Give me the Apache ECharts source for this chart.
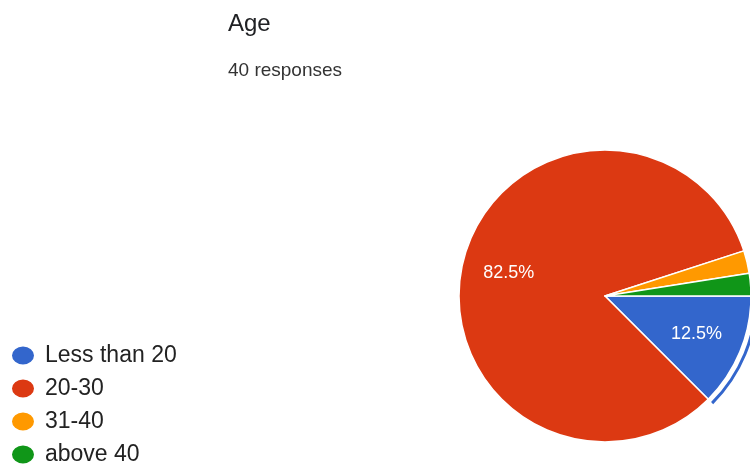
<!DOCTYPE html>
<html>
<head>
<meta charset="utf-8">
<script src="https://cdn.jsdelivr.net/npm/echarts@6/dist/echarts.min.js"></script>
<style>
  html, body { margin: 0; padding: 0; background: #fff; }
  #main { width: 750px; height: 466px; }
</style>
</head>
<body>
<div id="main"></div>
<script>
const categories = ['Less than 20', '20-30', '31-40', 'above 40'];
const counts = [5, 33, 1, 1];
const colors = ['#3366cc', '#dc3912', '#ff9900', '#109618'];
const title = 'Age';
const subtitle = '40 responses';

const center = [605, 296];
const radius = 146;

const pieData = categories.map((name, i) => ({ name, value: counts[i] }));

const myChart = echarts.init(document.getElementById('main'));

const option = {
  animation: false,
  color: colors,
  title: {
    text: title,
    subtext: subtitle,
    left: 223,
    top: 7,
    itemGap: 25,
    textStyle: { fontFamily: 'Liberation Sans', fontSize: 24, fontWeight: 'normal', color: '#202124' },
    subtextStyle: { fontFamily: 'Liberation Sans', fontSize: 19, color: '#333' }
  },
  legend: {
    orient: 'vertical',
    left: 5,
    top: 339,
    height: 130,
    itemWidth: 24,
    itemHeight: 20,
    itemGap: 10,
    icon: 'path://M0,10 a12,10 0 1,0 24,0 a12,10 0 1,0 -24,0',
    selectedMode: false,
    data: categories,
    textStyle: { fontFamily: 'Liberation Sans', fontSize: 23, color: '#222', padding: [0, 0, 0, 5] }
  },
  series: [
    {
      // main pie
      type: 'pie',
      center,
      radius: [0, radius],
      startAngle: 0,
      clockwise: true,
      silent: true,
      label: { show: false },
      labelLine: { show: false },
      itemStyle: { borderColor: '#fff', borderWidth: 1.5 },
      data: pieData
    },
    {
      // percentage labels, transparent ring so labels sit further out
      type: 'pie',
      center,
      radius: [50, 142],
      startAngle: 0,
      silent: true,
      z: 5,
      legendHoverLink: false,
      itemStyle: { color: 'rgba(0,0,0,0)' },
      label: {
        show: true,
        position: 'inside',
        fontFamily: 'Liberation Sans',
        fontSize: 18,
        color: '#fff',
        formatter: (p) => p.percent >= 5 ? p.percent.toFixed(1) + '%' : ''
      },
      labelLine: { show: false },
      data: categories.map((name, i) => ({ name: name + ' ', value: counts[i] }))
    },
    {
      // highlight arc outside the first slice
      type: 'pie',
      center,
      radius: [radius + 4, radius + 7],
      startAngle: 0,
      silent: true,
      label: { show: false },
      labelLine: { show: false },
      data: categories.map((name, i) => ({
        name: name + '  ',
        value: counts[i],
        itemStyle: { color: i === 0 ? colors[0] : 'rgba(0,0,0,0)' }
      }))
    }
  ]
};

option && myChart.setOption(option);
</script>
</body>
</html>
